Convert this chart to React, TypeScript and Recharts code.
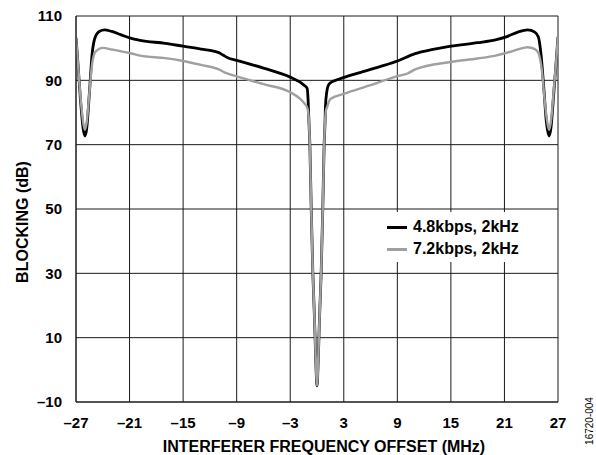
import React from "react";
import { LineChart, Line, XAxis, YAxis, CartesianGrid } from "recharts";

// 4.8kbps, 2kHz (black)
const blackX = [
  -27, -26.8, -26.5, -26.2, -26.0, -25.8, -25.5, -25.2, -24.9, -24.4, -23.8,
  -23.0, -22.0, -21.0, -19.8, -17.0, -15.0, -13.0, -11.0, -10.5, -10.0, -9.0,
  -6.0, -3.0, -2.0, -1.5, -1.1, -1.0, -0.9, -0.8, -0.65, -0.47, -0.3, -0.22,
  -0.1, 0, 0.1, 0.22, 0.3, 0.47, 0.65, 0.8, 0.9, 0.95, 1.1, 1.25, 1.6, 2.5, 4,
  6, 9, 11, 13, 15, 18, 20, 21.2, 22.5, 23.6, 24.4, 24.8, 25.1, 25.4, 25.7, 26.0,
  26.2, 26.5, 26.8, 27,
];
const blackY = [
  103.2, 96, 84, 75, 72.7, 75, 86, 98, 103, 105.2, 105.7, 105.2, 104.2, 103.2,
  102.4, 101.5, 100.6, 99.7, 98.6, 97.8, 97.0, 96.2, 93.8, 91.0, 89.6, 88.6,
  87.5, 84, 77, 70, 50.5, 30.5, 17.5, 10.5, 0, -5, 0, 10.5, 17.5, 30.5, 50.5,
  70, 77, 82, 86.5, 88.3, 89.4, 90.4, 91.8, 93.4, 96.0, 98.3, 99.6, 100.6,
  101.7, 102.6, 103.5, 105, 105.7, 105, 103.5, 98, 88, 77, 72.7, 75, 85, 96,
  103.5,
];

// 7.2kbps, 2kHz (gray)
const grayX = [
  -27, -26.8, -26.5, -26.2, -26.0, -25.8, -25.5, -25.2, -24.8, -24.0, -23.0,
  -21.0, -19.8, -17.0, -15.0, -13.0, -11.0, -10.3, -9.0, -6.0, -3.0, -2.0, -1.4,
  -1.15, -1.0, -0.9, -0.8, -0.65, -0.47, -0.3, -0.22, -0.1, 0, 0.1, 0.22, 0.3,
  0.47, 0.65, 0.8, 0.9, 1.0, 1.15, 1.5, 3, 6, 8.9, 10.2, 11, 15, 18, 20, 21.2,
  22.5, 23.6, 24.4, 24.8, 25.2, 25.5, 25.8, 26.0, 26.2, 26.5, 26.8, 27,
];
const grayY = [
  103.2, 96, 85, 77, 74.6, 77, 86, 95, 99, 100.1, 99.6, 98.5, 97.7, 96.9, 96,
  94.8, 93.4, 92.4, 91.2, 88.8, 86.3, 84.5, 82.8, 81.8, 80.5, 77, 70, 50.5, 30.5,
  17.5, 10.5, 0, -5, 0, 10.5, 17.5, 30.5, 50.5, 70, 77, 80.5, 81.8, 84.2, 85.8,
  88.5, 91.2, 92.2, 93.4, 95.7, 96.8, 97.7, 98.5, 99.6, 100.3, 99.7, 98.5, 93,
  84, 77, 74.6, 77, 86, 96, 103.5,
];

const xTicks = [-27, -21, -15, -9, -3, 3, 9, 15, 21, 27];
const yTicks = [-10, 10, 30, 50, 70, 90, 110];

const blackData = blackX.map((x, i) => ({ x, y: blackY[i] }));
const grayData = grayX.map((x, i) => ({ x, y: grayY[i] }));

const FONT = '"Liberation Sans", Arial, sans-serif';
const fmt = (v: number) => (v < 0 ? "\u2013" + Math.abs(v) : String(v));

const tickStyle = {
  fontFamily: FONT,
  fontWeight: 700,
  fontSize: 15,
  fill: "#000",
};
const titleStyle = { ...tickStyle, fontSize: 16 };

const XTitle = () => (
  <g>
    <text
      x={324}
      y={446}
      textAnchor="middle"
      dominantBaseline="central"
      style={titleStyle}
    >
      INTERFERER FREQUENCY OFFSET (MHz)
    </text>
    <text
      x={589}
      y={421}
      textAnchor="middle"
      dominantBaseline="central"
      transform="rotate(-90 589 421)"
      style={{ fontFamily: FONT, fontSize: 10, fill: "#000" }}
    >
      16720-004
    </text>
  </g>
);

const YTitle = () => (
  <text
    x={22}
    y={222}
    textAnchor="middle"
    dominantBaseline="central"
    transform="rotate(-90 22 222)"
    style={titleStyle}
  >
    BLOCKING (dB)
  </text>
);

const legendItems = [
  { label: "4.8kbps, 2kHz", color: "#000" },
  { label: "7.2kbps, 2kHz", color: "#a0a0a0" },
];

const LegendBox = () => (
  <div
    style={{
      position: "absolute",
      left: 378,
      top: 212,
      width: 172,
      height: 50,
      background: "#fff",
      paddingTop: 4,
      boxSizing: "border-box",
    }}
  >
    {legendItems.map((it) => (
      <div
        key={it.label}
        style={{ display: "flex", alignItems: "center", height: 22 }}
      >
        <span
          style={{
            display: "inline-block",
            width: 20,
            height: 3,
            background: it.color,
            marginLeft: 9,
            marginRight: 6,
          }}
        />
        <span
          style={{
            fontFamily: FONT,
            fontWeight: 700,
            fontSize: 16,
            color: "#000",
          }}
        >
          {it.label}
        </span>
      </div>
    ))}
  </div>
);

export default function App() {
  return (
    <div
      style={{
        position: "absolute",
        left: 0,
        top: 0,
        width: 596,
        height: 455,
        background: "#fff",
      }}
    >
      <LineChart
        width={596}
        height={455}
        margin={{ top: 16, right: 38, bottom: 0, left: 0 }}
      >
        <CartesianGrid stroke="#1a1a1a" strokeWidth={1} />
        <XAxis
          type="number"
          dataKey="x"
          domain={[-27, 27]}
          ticks={xTicks}
          allowDataOverflow
          tickFormatter={fmt}
          tickLine={false}
          tickSize={6}
          tickMargin={9}
          height={53}
          axisLine={{ stroke: "#1a1a1a" }}
          tick={tickStyle}
          interval={0}
          label={<XTitle />}
        />
        <YAxis
          type="number"
          domain={[-10, 110]}
          ticks={yTicks}
          allowDataOverflow
          tickFormatter={fmt}
          tickLine={false}
          tickSize={6}
          tickMargin={8}
          width={76}
          axisLine={{ stroke: "#1a1a1a" }}
          tick={tickStyle}
          interval={0}
          label={<YTitle />}
        />
        <Line
          data={blackData}
          dataKey="y"
          name="4.8kbps, 2kHz"
          type="monotone"
          stroke="#000"
          strokeWidth={2.8}
          dot={false}
          isAnimationActive={false}
        />
        <Line
          data={grayData}
          dataKey="y"
          name="7.2kbps, 2kHz"
          type="monotone"
          stroke="#a0a0a0"
          strokeWidth={2.4}
          dot={false}
          isAnimationActive={false}
        />
      </LineChart>
      <LegendBox />
    </div>
  );
}
